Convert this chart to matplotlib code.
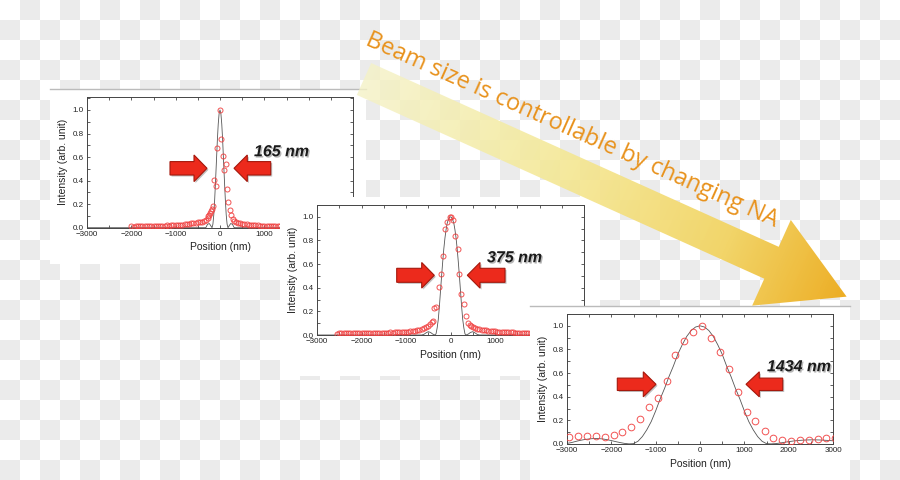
import numpy as np
import matplotlib
matplotlib.use('Agg')
import matplotlib.pyplot as plt
from matplotlib.patches import Polygon, Rectangle
from matplotlib.colors import ListedColormap, LinearSegmentedColormap
from matplotlib.ticker import MultipleLocator, FormatStrFormatter
import matplotlib.patheffects as pe
from matplotlib.textpath import TextPath
from matplotlib.font_manager import FontProperties

# ---------------- data ----------------
# Panel 1 (165 nm) measured points
p1_x = [-2000, -1950, -1900, -1850, -1800, -1750, -1700, -1650, -1600, -1550,
        -1500, -1450, -1400, -1350, -1300, -1250, -1200, -1150, -1100, -1050,
        -1000, -950, -900, -850, -800, -750, -700, -650, -600, -550,
        -500, -450, -400, -350,
        -316, -280, -260, -241, -222, -203, -180, -160, -128, -95, -65, 0,
        30, 60, 95, 130, 155, 188, 228, 255, 285, 310,
        350, 400, 450, 500, 550, 600, 650, 700, 750, 800, 850, 900, 950, 1000,
        1050, 1100, 1150, 1200, 1250, 1300, 1350, 1400, 1450, 1500]
p1_y = [0.012, 0.010, 0.013, 0.011, 0.012, 0.014, 0.012, 0.013, 0.015, 0.013,
        0.014, 0.016, 0.015, 0.017, 0.016, 0.018, 0.019, 0.018, 0.020, 0.022,
        0.021, 0.024, 0.025, 0.027, 0.029, 0.031, 0.034, 0.036, 0.039, 0.042,
        0.045, 0.048, 0.052, 0.058,
        0.065, 0.080, 0.100, 0.110, 0.125, 0.140, 0.160, 0.185, 0.405, 0.355, 0.675, 1.000,
        0.755, 0.610, 0.490, 0.545, 0.330, 0.220, 0.150, 0.110, 0.075, 0.055,
        0.048, 0.042, 0.038, 0.034, 0.031, 0.028, 0.026, 0.024, 0.022, 0.021, 0.019, 0.018, 0.017, 0.016,
        0.015, 0.014, 0.013, 0.013, 0.012, 0.011, 0.011, 0.010, 0.010, 0.009]
p1_fit_x = [-3000, -400, -320, -280, -240, -200, -180, -160, -140, -120, -100, -80, -60, -40, -20, 0,
            20, 40, 60, 80, 100, 120, 140, 160, 180, 200, 240, 280, 320, 400, 3000]
p1_fit_y = [0, 0, 0, 0.030, 0.035, 0.012, 0.0, 0.03, 0.11, 0.24, 0.40, 0.57, 0.74, 0.88, 0.97, 1.0,
            0.97, 0.88, 0.74, 0.57, 0.40, 0.24, 0.11, 0.03, 0.0, 0.012, 0.035, 0.030, 0, 0, 0]

# Panel 2 (375 nm) measured points
p2_x = [-2550, -2500, -2450, -2400, -2350, -2300, -2250, -2200, -2150, -2100,
        -2050, -2000, -1950, -1900, -1850, -1800, -1750, -1700, -1650, -1600,
        -1550, -1500, -1450, -1400, -1350, -1300, -1250, -1200, -1150, -1100,
        -1050, -1000, -950, -900, -850, -800, -750, -700, -650, -600, -550, -500,
        -450, -424, -400, -364, -330, -255, -212, -160, -125, -70, -20,
        15, 60, 106, 160, 200, 245, 295, 350, 400, 440, 470, 510, 545,
        600, 650, 700, 750, 800, 850, 900, 950, 1000, 1050, 1100, 1150, 1200,
        1250, 1300, 1350, 1400, 1450, 1500, 1550, 1600, 1650, 1700, 1750, 1800]
p2_y = [0.012, 0.014, 0.013, 0.015, 0.014, 0.016, 0.015, 0.017, 0.016, 0.018,
        0.017, 0.018, 0.017, 0.018, 0.017, 0.019, 0.018, 0.019, 0.018, 0.020,
        0.019, 0.020, 0.021, 0.020, 0.022, 0.021, 0.023, 0.024, 0.025, 0.026,
        0.027, 0.028, 0.029, 0.031, 0.033, 0.036, 0.040, 0.045, 0.050, 0.057, 0.066, 0.078,
        0.092, 0.107, 0.118, 0.232, 0.234, 0.410, 0.520, 0.670, 0.900, 0.960, 1.000,
        0.995, 0.970, 0.840, 0.730, 0.515, 0.345, 0.260, 0.165, 0.098, 0.085, 0.078, 0.070, 0.062,
        0.055, 0.050, 0.046, 0.042, 0.039, 0.036, 0.034, 0.032, 0.030, 0.028, 0.027, 0.026, 0.025,
        0.024, 0.023, 0.022, 0.022, 0.021, 0.021, 0.020, 0.020, 0.019, 0.019, 0.019, 0.018]
p2_fit_x = [-3000, -650, -600, -550, -500, -450, -400, -350, -325, -300, -275, -250, -225, -200,
            -175, -150, -125, -100, -75, -50, -25, 0, 25, 50, 75, 100, 125, 150, 175, 200,
            225, 250, 275, 300, 325, 350, 400, 450, 500, 550, 600, 650, 3000]
p2_fit_y = [0, 0, 0.005, 0.018, 0.028, 0.022, 0.008, 0.0, 0.01, 0.06, 0.13, 0.24, 0.37, 0.50,
            0.62, 0.73, 0.82, 0.89, 0.945, 0.975, 0.995, 1.0, 0.995, 0.975, 0.945, 0.89, 0.82, 0.73, 0.62, 0.50,
            0.37, 0.24, 0.13, 0.06, 0.01, 0.0, 0.008, 0.022, 0.028, 0.018, 0.005, 0, 0]

# Panel 3 (1434 nm) measured points
p3_x = [-2950, -2750, -2550, -2350, -2150, -1950, -1750, -1550, -1350, -1150,
        -950, -750, -555, -355, -150, 50, 250, 450, 650, 855,
        1050, 1250, 1455, 1650, 1855, 2055, 2255, 2455, 2655, 2850, 3050]
p3_y = [0.062, 0.068, 0.068, 0.065, 0.062, 0.076, 0.100, 0.144, 0.210, 0.310,
        0.390, 0.530, 0.754, 0.870, 0.946, 0.997, 0.900, 0.777, 0.636, 0.438,
        0.271, 0.198, 0.113, 0.054, 0.031, 0.025, 0.034, 0.034, 0.040, 0.050, 0.050]
p3_fit_x = [-3000, -2900, -2800, -2700, -2600, -2500, -2400, -2300, -2200, -2100,
            -2000, -1900, -1800, -1700, -1600, -1500, -1400, -1300, -1200, -1100,
            -1000, -900, -800, -700, -600, -500, -400, -300, -200, -100, 0,
            100, 200, 300, 400, 500, 600, 700, 800, 900, 1000,
            1100, 1200, 1300, 1400, 1500, 1600, 1700, 1800, 1900, 2000,
            2100, 2200, 2300, 2400, 2500, 2600, 2700, 2800, 2900, 3000]
p3_fit_y = [0.005, 0.012, 0.022, 0.031, 0.038, 0.043, 0.046, 0.046, 0.043, 0.037,
            0.029, 0.020, 0.012, 0.005, 0.001, 0.003, 0.023, 0.063, 0.120, 0.190,
            0.280, 0.380, 0.470, 0.570, 0.660, 0.760, 0.840, 0.910, 0.960, 0.990, 1.000,
            0.990, 0.960, 0.910, 0.840, 0.760, 0.660, 0.570, 0.470, 0.380, 0.280,
            0.190, 0.120, 0.063, 0.023, 0.003, 0.001, 0.003, 0.008, 0.014, 0.020,
            0.025, 0.029, 0.032, 0.034, 0.035, 0.035, 0.034, 0.032, 0.030, 0.027]

size_labels = ['165 nm', '375 nm', '1434 nm']
headline = 'Beam size is controllable by changing NA'
x_label = 'Position (nm)'
y_label = 'Intensity (arb. unit)'

# ---------------- figure ----------------
W, H = 900, 480
fig = plt.figure(figsize=(9, 4.8), dpi=100)


def overlay(z):
    a = fig.add_axes([0, 0, 1, 1], zorder=z)
    a.set_xlim(0, W)
    a.set_ylim(H, 0)
    a.set_axis_off()
    a.patch.set_alpha(0)
    return a


def pix_axes(l, t, r, b, z):
    return fig.add_axes([l / W, 1 - b / H, (r - l) / W, (b - t) / H], zorder=z)


# checkerboard background
bg = overlay(0)
board = np.indices((H // 20, W // 20)).sum(axis=0) % 2
bg.imshow(board, cmap=ListedColormap(['#ffffff', '#ebebeb']), extent=(0, W, H, 0),
          interpolation='nearest', aspect='auto')
bg.set_xlim(0, W)
bg.set_ylim(H, 0)


def style(ax, ytop, xmax_label):
    ax.set_xlim(-3000, 3000)
    ax.set_ylim(0, ytop)
    ax.patch.set_alpha(0)
    ax.xaxis.set_major_locator(MultipleLocator(1000))
    ax.xaxis.set_minor_locator(MultipleLocator(500))
    ax.yaxis.set_major_locator(MultipleLocator(0.2))
    ax.yaxis.set_minor_locator(MultipleLocator(0.1))
    ax.yaxis.set_major_formatter(FormatStrFormatter('%.1f'))
    ax.xaxis.set_major_formatter(lambda v, pos: ('\u2212%d' % -v if v < 0 else '%d' % v)
                                 if v <= xmax_label else '')
    ax.tick_params(which='both', direction='in', top=True, right=True, width=0.6,
                   color='#444444', labelsize=5.8, labelcolor='#222222', pad=2.5)
    ax.tick_params(which='major', length=2.5)
    ax.tick_params(which='minor', length=2.2)
    for lab in ax.get_xticklabels() + ax.get_yticklabels():
        lab.set_family('Liberation Sans')
    for s in ax.spines.values():
        s.set_linewidth(0.7)
        s.set_color('#444444')
    ax.set_xlabel(x_label, fontsize=7.5, labelpad=3, color='#222222', family='Liberation Sans')
    ax.set_ylabel(y_label, fontsize=7.5, labelpad=3, color='#222222', family='Liberation Sans')


def block_arrow(a, x0, xb, xt, c, hb, hh):
    pts = [(x0, c - hb), (xb, c - hb), (xb, c - hh), (xt, c), (xb, c + hh), (xb, c + hb), (x0, c + hb)]
    a.add_patch(Polygon([(x + 1.5, y + 1.5) for x, y in pts], closed=True, fc='black',
                        alpha=0.25, ec='none', clip_on=False))
    a.add_patch(Polygon(pts, closed=True, fc='#ec2a1c', ec='#a5180c', lw=0.8, clip_on=False))


def size_text(a, x, y, s):
    a.text(x, y, s, fontsize=11.5, family='Liberation Sans', weight='bold', style='italic',
           color='#1a1a1a', ha='left', va='baseline',
           path_effects=[pe.withSimplePatchShadow(offset=(1, -1), shadow_rgbFace='#888888', alpha=0.6)])


panels = [
    dict(rect=(50, 90, 366, 264), ax=(87, 97, 353, 227.7), ytop=1.11, xmax_label=1000,
         x=p1_x, y=p1_y, fx=p1_fit_x, fy=p1_fit_y, ms=3.6,
         arrows=[(170, 194, 207, 168.3, 6.7, 13.3), (270.7, 247.3, 234, 168.3, 6.7, 13.3)],
         label=(254, 156.2), topline=True),
    dict(rect=(280, 197, 600, 376), ax=(317, 205, 584, 335), ytop=1.10, xmax_label=1000,
         x=p2_x, y=p2_y, fx=p2_fit_x, fy=p2_fit_y, ms=3.6,
         arrows=[(396.7, 421.7, 434.3, 275.3, 7, 12.8), (505, 480, 467.3, 275.3, 7, 12.8)],
         label=(487, 262.2), topline=False),
    dict(rect=(530, 307, 850, 480), ax=(567, 314, 833, 444), ytop=1.10, xmax_label=3000,
         x=p3_x, y=p3_y, fx=p3_fit_x, fy=p3_fit_y, ms=4.8,
         arrows=[(617.3, 643.3, 656, 384.3, 6.2, 12.5), (782.7, 759.3, 746, 384.3, 6.2, 12.5)],
         label=(767, 371.2), topline=True),
]

for k, p in enumerate(panels):
    z = 1 + 3 * k
    back = overlay(z)
    l, t, r, b = p['rect']
    back.add_patch(Rectangle((l, t), r - l, b - t, fc='white', ec='none'))
    if p['topline']:
        back.plot([l, r], [t - 1, t - 1], color='#bbbbbb', lw=1)
    ax = pix_axes(*p['ax'], z + 1)
    ax.plot(p['fx'], p['fy'], color='#555555', lw=0.6, zorder=2)
    ax.plot(p['x'], p['y'], 'o', mfc='none', mec='#f04040', mew=0.7, ms=p['ms'], alpha=0.9, zorder=3)
    style(ax, p['ytop'], p['xmax_label'])
    front = overlay(z + 2)
    for arr in p['arrows']:
        block_arrow(front, *arr)
    size_text(front, p['label'][0], p['label'][1], size_labels[k])

# big gradient arrow
ov = overlay(20)
C0 = np.array([364.0, 79.0])
d = np.array([0.9116, 0.4111])
nrm = np.array([-d[1], d[0]])
hw, t_head, head_hw, t_tip = 17.5, 447.0, 47.0, 529.4
pts = [C0 - nrm * hw, C0 + d * t_head - nrm * hw, C0 + d * t_head - nrm * head_hw,
       C0 + d * t_tip, C0 + d * t_head + nrm * head_hw, C0 + d * t_head + nrm * hw, C0 + nrm * hw]
poly = Polygon(pts, closed=True, fc='none', ec='none')
ov.add_patch(poly)
gx = np.linspace(340, 860, 521)
gy = np.linspace(50, 320, 271)
GX, GY = np.meshgrid(gx, gy)
T = ((GX - C0[0]) * d[0] + (GY - C0[1]) * d[1]) / t_tip
cmap = LinearSegmentedColormap.from_list('g', [
    (0.0, (0.96, 0.95, 0.78, 0.8)),
    (0.4, (0.96, 0.91, 0.58, 0.88)),
    (0.75, (0.95, 0.83, 0.38, 0.94)),
    (1.0, (0.93, 0.68, 0.14, 1.0))])
im = ov.imshow(T, cmap=cmap, vmin=0, vmax=1, extent=(340, 860, 320, 50),
               interpolation='bilinear', aspect='auto')
im.set_clip_path(poly)
ov.set_xlim(0, W)
ov.set_ylim(H, 0)

fp = FontProperties(family='Open Sans', size=16)
wpt = TextPath((0, 0), headline, prop=fp).get_extents().width
fsize = 16 * 447.0 / (wpt * 100 / 72)
ov.text(569, 136, headline, rotation=-24, rotation_mode='anchor', ha='center', va='baseline',
        fontsize=fsize, family='Open Sans', color='#e8921c')

fig.savefig('out.png', dpi=100)
